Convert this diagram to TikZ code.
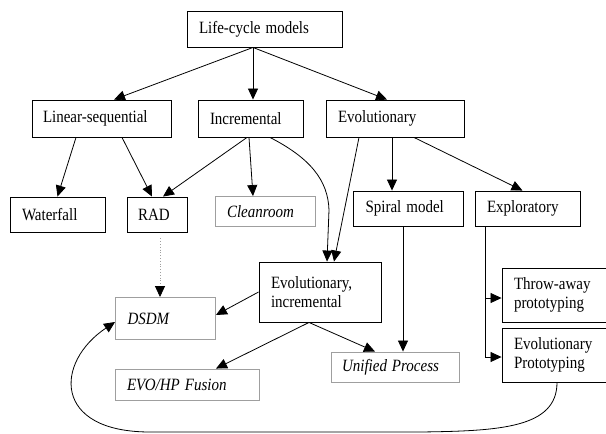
\documentclass[tikz,border=0pt]{standalone}
\usepackage{fontspec}
\setmainfont{Liberation Serif}
\usetikzlibrary{arrows.meta}

% text in the boxes is a bit taller than wide
\newcommand{\tall}[1]{\scalebox{1}[1.15]{#1}}

\tikzset{
    box/.style={draw, line width=0.9pt, inner xsep=12pt, inner ysep=2pt, align=left,
        font=\fontsize{15}{18.5}\selectfont},
    greybox/.style={box, draw=gray!75, font=\fontsize{15}{18.5}\selectfont\itshape},
    arr/.style={-{Triangle[length=11pt,width=10pt,black]}, line width=0.8pt},
}

\begin{document}
\begin{tikzpicture}[x=1pt,y=-1pt]
        \useasboundingbox (0,0) rectangle (606,434);

        % Top
        \node[box, text width=131pt, minimum height=36pt] (lcm) at (264.5,29) {\tall{Life-cycle models}};

        % Families
        \node[box, text width=117pt, inner xsep=11pt, minimum height=37pt] (lin) at (101.5,118.5) {\tall{Linear-sequential}};
        \node[box, text width=81pt, minimum height=37pt] (inc) at (250.5,118.5) {\tall{Incremental}};
        \node[box, text width=114pt, minimum height=37pt] (evo) at (395,118.5) {\tall{Evolutionary}};

        % Models
        \node[box, text width=71pt, minimum height=35pt] (wat) at (57.5,214.5) {\tall{Waterfall}};
        \node[box, text width=38pt, inner xsep=11pt, minimum height=35pt] (rad) at (157,214.5) {\tall{RAD}};
        \node[greybox, text width=76pt, minimum height=30pt] (cln) at (265,211.5) {\tall{Cleanroom}};
        \node[box, text width=86pt, minimum height=35pt] (spi) at (408.5,208.5) {\tall{Spiral model}};
        \node[box, text width=81pt, minimum height=35pt] (exp) at (527.5,208.5) {\tall{Exploratory}};
        \node[box, text width=98pt, minimum height=60pt] (ein) at (320,292) {\tall{Evolutionary,}\\\tall{incremental}};
        \node[box, text width=86pt, minimum height=54pt] (thr) at (557,295) {\tall{Throw-away}\\\tall{prototyping}};
        \node[box, text width=86pt, minimum height=54pt] (epr) at (557,355) {\tall{Evolutionary}\\\tall{Prototyping}};

        % Methods
        \node[greybox, text width=76pt, minimum height=42pt] (dsd) at (165.5,318.5) {\tall{DSDM}};
        \node[greybox, text width=106pt, inner xsep=11pt, minimum height=30pt] (uni) at (395,367) {\tall{Unified Process}};
        \node[greybox, text width=120pt, minimum height=31pt] (evh) at (187,384.5) {\tall{EVO/HP Fusion}};

        % Arrows from the top
        \draw[arr] ([xshift=-11.5pt]lcm.south) -- ([xshift=12.5pt]lin.north);
        \draw[arr] ([xshift=-11.5pt]lcm.south) -- ([xshift=2.5pt]inc.north);
        \draw[arr] ([xshift=-11.5pt]lcm.south) -- ([xshift=-8pt]evo.north);

        % Linear-sequential
        \draw[arr] ([xshift=-25.5pt]lin.south) -- (wat.north);
        \draw[arr] ([xshift=20.5pt]lin.south) -- ([xshift=-5pt]rad.north);

        % Incremental
        \draw[arr] ([xshift=-3.5pt]inc.south) -- ([xshift=6pt]rad.north);
        \draw[arr] ([xshift=-1.5pt]inc.south) -- ([xshift=-12pt]cln.north);
        \draw[arr] ([xshift=19.5pt]inc.south) .. controls (310,158) and (328,180) .. (329,210)
            -- ([xshift=7pt]ein.north);

        % Evolutionary
        \draw[arr] ([xshift=-36pt]evo.south) -- ([xshift=14pt]ein.north);
        \draw[arr] ([xshift=-3pt]evo.south) -- ([xshift=-16.5pt]spi.north);
        \draw[arr] ([xshift=19pt]evo.south) -- ([xshift=-5pt]exp.north);
        \draw[arr] ([xshift=-5.5pt]spi.south) -- ([xshift=8pt]uni.north);
        \draw[arr] ([xshift=11pt]exp.south west) |- ([yshift=-3pt]thr.west);
        \draw[arr] ([xshift=11pt]exp.south west) |- ([yshift=-2pt]epr.west);

        % Methods
        \draw[arr, gray!75, dotted, shorten <=6pt] ([xshift=3pt]rad.south) -- ([xshift=-5.5pt]dsd.north);
        \draw[arr] (ein.west) -- ([yshift=3.5pt]dsd.east);
        \draw[arr] ([xshift=-11pt]ein.south) -- ([xshift=29pt]evh.north);
        \draw[arr] ([xshift=-11pt]ein.south) -- ([xshift=-20pt]uni.north);

        % Back to DSDM
        \draw[arr] (epr.south) .. controls (557,428) and (500,431) .. (420,432) -- (150,432)
            .. controls (52,432) and (55,362) .. ([yshift=-3.5pt]dsd.west);
\end{tikzpicture}
\end{document}
